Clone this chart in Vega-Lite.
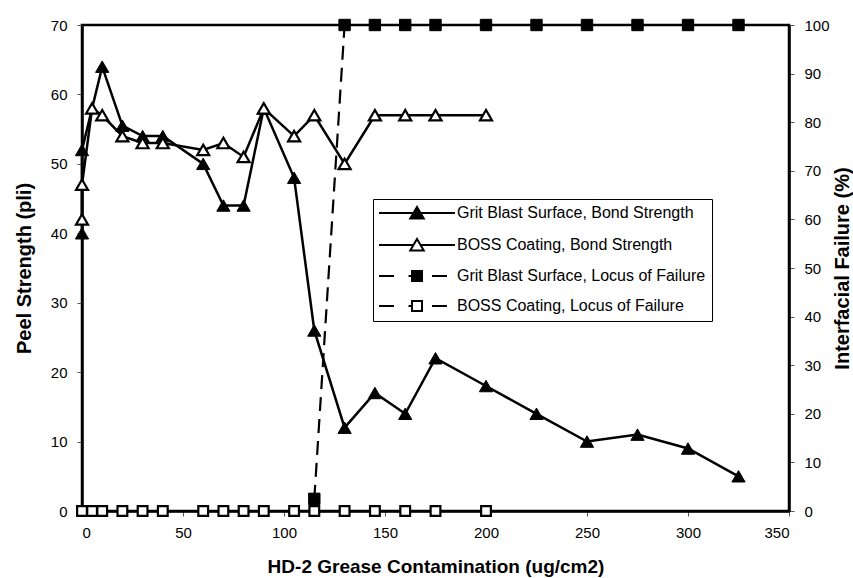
{
  "$schema": "https://vega.github.io/schema/vega-lite/v6.json",
  "autosize": {"type": "none"},
  "width": 707,
  "height": 486,
  "padding": {"left": 82, "top": 25, "right": 64, "bottom": 67},
  "background": "white",
  "datasets": {
    "d": [
      {"s": "Grit Blast Surface, Bond Strength", "x": 0, "y": 40},
      {"s": "Grit Blast Surface, Bond Strength", "x": 0, "y": 52},
      {"s": "Grit Blast Surface, Bond Strength", "x": 10, "y": 64},
      {"s": "Grit Blast Surface, Bond Strength", "x": 20, "y": 55.5},
      {"s": "Grit Blast Surface, Bond Strength", "x": 30, "y": 54},
      {"s": "Grit Blast Surface, Bond Strength", "x": 40, "y": 54},
      {"s": "Grit Blast Surface, Bond Strength", "x": 60, "y": 50},
      {"s": "Grit Blast Surface, Bond Strength", "x": 70, "y": 44},
      {"s": "Grit Blast Surface, Bond Strength", "x": 80, "y": 44},
      {"s": "Grit Blast Surface, Bond Strength", "x": 90, "y": 58},
      {"s": "Grit Blast Surface, Bond Strength", "x": 105, "y": 48},
      {"s": "Grit Blast Surface, Bond Strength", "x": 115, "y": 26},
      {"s": "Grit Blast Surface, Bond Strength", "x": 130, "y": 12},
      {"s": "Grit Blast Surface, Bond Strength", "x": 145, "y": 17},
      {"s": "Grit Blast Surface, Bond Strength", "x": 160, "y": 14},
      {"s": "Grit Blast Surface, Bond Strength", "x": 175, "y": 22},
      {"s": "Grit Blast Surface, Bond Strength", "x": 200, "y": 18},
      {"s": "Grit Blast Surface, Bond Strength", "x": 225, "y": 14},
      {"s": "Grit Blast Surface, Bond Strength", "x": 250, "y": 10},
      {"s": "Grit Blast Surface, Bond Strength", "x": 275, "y": 11},
      {"s": "Grit Blast Surface, Bond Strength", "x": 300, "y": 9},
      {"s": "Grit Blast Surface, Bond Strength", "x": 325, "y": 5},
      {"s": "BOSS Coating, Bond Strength", "x": 0, "y": 42},
      {"s": "BOSS Coating, Bond Strength", "x": 0, "y": 47},
      {"s": "BOSS Coating, Bond Strength", "x": 5, "y": 58},
      {"s": "BOSS Coating, Bond Strength", "x": 10, "y": 57},
      {"s": "BOSS Coating, Bond Strength", "x": 20, "y": 54},
      {"s": "BOSS Coating, Bond Strength", "x": 30, "y": 53},
      {"s": "BOSS Coating, Bond Strength", "x": 40, "y": 53},
      {"s": "BOSS Coating, Bond Strength", "x": 60, "y": 52},
      {"s": "BOSS Coating, Bond Strength", "x": 70, "y": 53},
      {"s": "BOSS Coating, Bond Strength", "x": 80, "y": 51},
      {"s": "BOSS Coating, Bond Strength", "x": 90, "y": 58},
      {"s": "BOSS Coating, Bond Strength", "x": 105, "y": 54},
      {"s": "BOSS Coating, Bond Strength", "x": 115, "y": 57},
      {"s": "BOSS Coating, Bond Strength", "x": 130, "y": 50},
      {"s": "BOSS Coating, Bond Strength", "x": 145, "y": 57},
      {"s": "BOSS Coating, Bond Strength", "x": 160, "y": 57},
      {"s": "BOSS Coating, Bond Strength", "x": 175, "y": 57},
      {"s": "BOSS Coating, Bond Strength", "x": 200, "y": 57},
      {"s": "Grit Blast Surface, Locus of Failure", "x": 115, "y": 2.5},
      {"s": "Grit Blast Surface, Locus of Failure", "x": 130, "y": 100},
      {"s": "Grit Blast Surface, Locus of Failure", "x": 145, "y": 100},
      {"s": "Grit Blast Surface, Locus of Failure", "x": 160, "y": 100},
      {"s": "Grit Blast Surface, Locus of Failure", "x": 175, "y": 100},
      {"s": "Grit Blast Surface, Locus of Failure", "x": 200, "y": 100},
      {"s": "Grit Blast Surface, Locus of Failure", "x": 225, "y": 100},
      {"s": "Grit Blast Surface, Locus of Failure", "x": 250, "y": 100},
      {"s": "Grit Blast Surface, Locus of Failure", "x": 275, "y": 100},
      {"s": "Grit Blast Surface, Locus of Failure", "x": 300, "y": 100},
      {"s": "Grit Blast Surface, Locus of Failure", "x": 325, "y": 100},
      {"s": "BOSS Coating, Locus of Failure", "x": 0, "y": 0},
      {"s": "BOSS Coating, Locus of Failure", "x": 5, "y": 0},
      {"s": "BOSS Coating, Locus of Failure", "x": 10, "y": 0},
      {"s": "BOSS Coating, Locus of Failure", "x": 20, "y": 0},
      {"s": "BOSS Coating, Locus of Failure", "x": 30, "y": 0},
      {"s": "BOSS Coating, Locus of Failure", "x": 40, "y": 0},
      {"s": "BOSS Coating, Locus of Failure", "x": 60, "y": 0},
      {"s": "BOSS Coating, Locus of Failure", "x": 70, "y": 0},
      {"s": "BOSS Coating, Locus of Failure", "x": 80, "y": 0},
      {"s": "BOSS Coating, Locus of Failure", "x": 90, "y": 0},
      {"s": "BOSS Coating, Locus of Failure", "x": 105, "y": 0},
      {"s": "BOSS Coating, Locus of Failure", "x": 115, "y": 0},
      {"s": "BOSS Coating, Locus of Failure", "x": 130, "y": 0},
      {"s": "BOSS Coating, Locus of Failure", "x": 145, "y": 0},
      {"s": "BOSS Coating, Locus of Failure", "x": 160, "y": 0},
      {"s": "BOSS Coating, Locus of Failure", "x": 175, "y": 0},
      {"s": "BOSS Coating, Locus of Failure", "x": 200, "y": 0}
    ]
  },
  "data": {"name": "d"},
  "encoding": {
    "x": {
      "field": "x",
      "type": "quantitative",
      "scale": {"domain": [0, 350], "nice": false, "zero": false},
      "axis": {
        "values": [0, 50, 100, 150, 200, 250, 300, 350],
        "title": "HD-2 Grease Contamination (ug/cm2)",
        "titleFontSize": 19,
        "titlePadding": 17,
        "labelPadding": 9
      }
    }
  },
  "layer": [
    {
      "encoding": {
        "y": {
          "field": "y",
          "type": "quantitative",
          "scale": {"domain": [0, 70], "nice": false},
          "axis": {
            "orient": "left",
            "values": [0, 10, 20, 30, 40, 50, 60, 70],
            "title": "Peel Strength (pli)",
            "titleFontSize": 20,
            "titlePadding": 16,
            "labelPadding": 10
          }
        }
      },
      "layer": [
        {
          "transform": [{"filter": "datum.s === 'Grit Blast Surface, Bond Strength'"}],
          "mark": {"type": "line", "color": "black", "strokeWidth": 2.5}
        },
        {
          "transform": [{"filter": "datum.s === 'Grit Blast Surface, Bond Strength'"}],
          "mark": {"type": "point", "shape": "triangle-up", "filled": true, "fill": "black", "stroke": "black", "strokeWidth": 1, "size": 175, "opacity": 1}
        },
        {
          "transform": [{"filter": "datum.s === 'BOSS Coating, Bond Strength'"}],
          "mark": {"type": "line", "color": "black", "strokeWidth": 2.5}
        },
        {
          "transform": [{"filter": "datum.s === 'BOSS Coating, Bond Strength'"}],
          "mark": {"type": "point", "shape": "triangle-up", "filled": true, "fill": "white", "stroke": "black", "strokeWidth": 2.2, "size": 145, "opacity": 1}
        }
      ]
    },
    {
      "encoding": {
        "y": {
          "field": "y",
          "type": "quantitative",
          "scale": {"domain": [0, 100], "nice": false},
          "axis": {
            "orient": "right",
            "values": [0, 10, 20, 30, 40, 50, 60, 70, 80, 90, 100],
            "title": "Interfacial Failure (%)",
            "titleFontSize": 20,
            "titleAngle": 270,
            "titlePadding": 23,
            "labelPadding": 10
          }
        }
      },
      "layer": [
        {
          "transform": [{"filter": "datum.s === 'Grit Blast Surface, Locus of Failure'"}],
          "mark": {"type": "line", "color": "black", "strokeWidth": 2.2, "strokeDash": [14, 8]}
        },
        {
          "transform": [{"filter": "datum.s === 'Grit Blast Surface, Locus of Failure'"}],
          "mark": {"type": "point", "shape": "square", "filled": true, "fill": "black", "stroke": "black", "strokeWidth": 1, "size": 130, "opacity": 1}
        },
        {
          "transform": [{"filter": "datum.s === 'BOSS Coating, Locus of Failure'"}],
          "mark": {"type": "line", "color": "black", "strokeWidth": 2.2, "strokeDash": [14, 8]}
        },
        {
          "transform": [{"filter": "datum.s === 'BOSS Coating, Locus of Failure'"}],
          "mark": {"type": "point", "shape": "square", "filled": true, "fill": "white", "stroke": "black", "strokeWidth": 2.2, "size": 95, "opacity": 1}
        }
      ]
    },
    {
      "mark": {"type": "point", "filled": true, "opacity": 0, "size": 100, "strokeWidth": 2},
      "encoding": {
        "shape": {
          "field": "s",
          "type": "nominal",
          "scale": {
            "domain": ["Grit Blast Surface, Bond Strength", "BOSS Coating, Bond Strength", "Grit Blast Surface, Locus of Failure", "BOSS Coating, Locus of Failure"],
            "range": [
              "M-7.6,0H7.6M0,-1.2L1.35,1.1L-1.35,1.1Z",
              "M-7.6,0H-0.7M0.7,0H7.6M0,-1.2L1.35,1.1L-1.35,1.1Z",
              "M-7.6,0H-4.6M-1.7,0H-1M-1,-1H1V1H-1ZM3,0H6",
              "M-7.6,0H-4.6M-1.7,0H-1M-1,-1H1V1H-1ZM3,0H6"
            ]
          },
          "legend": {
            "orient": "none",
            "legendX": 291,
            "legendY": 174,
            "title": null,
            "labelFont": "Liberation Sans",
            "labelFontSize": 16,
            "labelColor": "black",
            "labelLimit": 400,
            "symbolSize": 100,
            "symbolStrokeWidth": 2,
            "symbolOpacity": 1,
            "symbolOffset": 30,
            "labelOffset": 32,
            "rowPadding": 12,
            "padding": 6,
            "strokeColor": "black",
            "fillColor": "white"
          }
        },
        "fill": {
          "field": "s",
          "type": "nominal",
          "scale": {
            "domain": ["Grit Blast Surface, Bond Strength", "BOSS Coating, Bond Strength", "Grit Blast Surface, Locus of Failure", "BOSS Coating, Locus of Failure"],
            "range": ["black", "white", "black", "white"]
          }
        },
        "stroke": {
          "field": "s",
          "type": "nominal",
          "scale": {
            "domain": ["Grit Blast Surface, Bond Strength", "BOSS Coating, Bond Strength", "Grit Blast Surface, Locus of Failure", "BOSS Coating, Locus of Failure"],
            "range": ["black", "black", "black", "black"]
          }
        }
      }
    }
  ],
  "resolve": {"scale": {"y": "independent"}},
  "config": {
    "view": {"stroke": "black", "strokeWidth": 2.5},
    "font": "Liberation Sans",
    "axis": {
      "grid": false,
      "domainColor": "black",
      "domainWidth": 2.5,
      "tickColor": "#555",
      "tickSize": 5,
      "tickWidth": 1,
      "labelFont": "Liberation Sans",
      "labelFontSize": 15,
      "labelColor": "black",
      "titleFont": "Liberation Sans",
      "titleFontWeight": "bold",
      "titleColor": "black"
    }
  }
}
